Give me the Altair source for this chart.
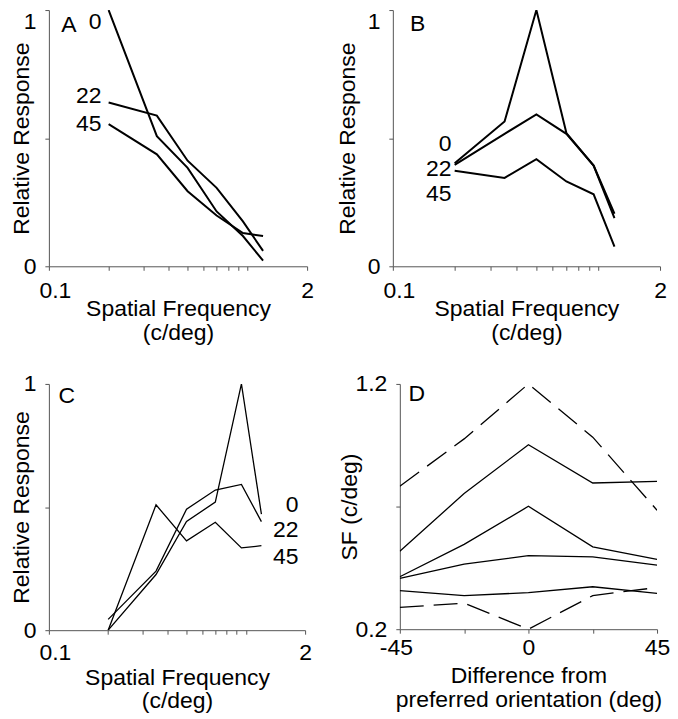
import altair as alt
import pandas as pd

FONT = "Liberation Sans"
FS = 23

# ---------------- data ----------------
sf = [0.2, 0.35, 0.5, 0.7, 0.95, 1.2]          # spatial frequency (c/deg)
orientations = ["0", "22", "45"]

# Panel A
a_0 = [1.0, 0.508, 0.384, 0.214, 0.118, 0.022]
a_22 = [0.639, 0.588, 0.412, 0.306, 0.175, 0.06]
a_45 = [0.555, 0.437, 0.293, 0.198, 0.130, 0.118]

# Panel B
b_0 = [0.402, 0.565, 1.0, 0.520, 0.393, 0.205]
b_22 = [0.396, 0.517, 0.593, 0.517, 0.393, 0.188]
b_45 = [0.373, 0.345, 0.418, 0.331, 0.281, 0.077]

# Panel C
c_0 = [0.0, 0.226, 0.442, 0.520, 1.0, 0.471]
c_22 = [0.044, 0.240, 0.491, 0.569, 0.592, 0.441]
c_45 = [0.0, 0.509, 0.363, 0.438, 0.334, 0.343]

# Panel D
d_x = [-45, -22.5, 0, 22.5, 45]
d_dash_upper = [0.783, 0.976, 1.2, 0.983, 0.685]
d_solid_1 = [0.518, 0.753, 0.952, 0.796, 0.803]
d_solid_2 = [0.414, 0.546, 0.701, 0.536, 0.485]
d_solid_3 = [0.407, 0.465, 0.500, 0.495, 0.461]
d_solid_4 = [0.357, 0.337, 0.349, 0.373, 0.346]
d_dash_lower = [0.289, 0.306, 0.2, 0.337, 0.370]

# tick values / labels
sf_ticks = [0.1, 0.2, 0.3, 0.4, 0.5, 0.6, 0.7, 0.8, 0.9, 1.0, 2.0]
resp_ticks = [0, 0.5, 1]
d_x_ticks = [-45, -22.5, 0, 22.5, 45]
d_y_ticks = [0.2, 0.7, 1.2]

# annotation anchors (data units)
a_lab_x, a_lab_y = 0.184, [0.955, 0.665, 0.556]
b_lab_x, b_lab_y = 0.193, [0.477, 0.379, 0.283]
c_lab_x, c_lab_y = 1.85, [0.510, 0.407, 0.296]


def sf_df(series):
    rows = []
    for name, vals in zip(orientations, series):
        for x, v in zip(sf, vals):
            rows.append({"sf": x, "resp": v, "ori": name})
    return pd.DataFrame(rows)


def sf_x_axis(label_pad, title_y, line_h):
    return alt.Axis(
        values=sf_ticks,
        labelExpr="datum.value < 0.15 ? '0.1' : (datum.value > 1.5 ? '2' : '')",
        labelOffset={"condition": {"test": "datum.value < 0.15", "value": 6}, "value": 0},
        labelOverlap=False, labelFlush=False,
        tickSize=4, labelPadding=label_pad,
        title=["Spatial Frequency", "(c/deg)"], titleY=title_y, titleLineHeight=line_h,
    )


def resp_y_axis(title_x, top_row):
    kw = dict(
        values=resp_ticks,
        labelExpr="datum.value == 0 ? '0' : (datum.value == 1 ? '1' : '')",
        labelOverlap=False, labelFlush=False,
        tickSize=4, labelPadding=9,
        title="Relative Response", titleX=title_x,
    )
    if top_row:
        kw["labelBaseline"] = {"condition": {"test": "datum.value == 1", "value": "top"}, "value": "middle"}
    return alt.Axis(**kw)


def sf_panel(series, lab_x, lab_y, letter, letter_xy, w, h, sw, top_row, title_x, label_pad, title_y, line_h):
    xsc = alt.Scale(type="log", domain=[0.1, 2])
    ysc = alt.Scale(domain=[0, 1])
    lines = alt.Chart(sf_df(series)).mark_line(color="black", strokeWidth=sw, clip=True).encode(
        x=alt.X("sf:Q", scale=xsc, axis=sf_x_axis(label_pad, title_y, line_h)),
        y=alt.Y("resp:Q", scale=ysc, axis=resp_y_axis(title_x, top_row)),
        detail="ori:N",
    )
    lab_df = pd.DataFrame({"sf": [lab_x] * 3, "resp": lab_y, "t": orientations})
    labels = alt.Chart(lab_df).mark_text(align="right", baseline="middle", font=FONT, fontSize=FS, color="black").encode(
        x=alt.X("sf:Q", scale=xsc), y=alt.Y("resp:Q", scale=ysc), text="t:N"
    )
    let = alt.Chart(pd.DataFrame({"t": [letter]})).mark_text(align="center", baseline="middle", font=FONT, fontSize=FS, color="black").encode(
        x=alt.value(letter_xy[0]), y=alt.value(letter_xy[1]), text="t:N"
    )
    return alt.layer(lines, labels, let).properties(width=w, height=h)


panel_a = sf_panel([a_0, a_22, a_45], a_lab_x, a_lab_y, "A", (20, 15), 259, 257, 2, True, -15, 9, 31, 24)
panel_b = sf_panel([b_0, b_22, b_45], b_lab_x, b_lab_y, "B", (25, 14), 268, 257, 2, True, -33, 9, 31, 24)
panel_c = sf_panel([c_0, c_22, c_45], c_lab_x, c_lab_y, "C", (18, 12), 257, 247, 1.3, False, -15, 7, 36, 24)

# Panel D
d_rows = []
for name, vals, style in [("u", d_dash_upper, "dash"), ("s1", d_solid_1, "solid"), ("s2", d_solid_2, "solid"),
                          ("s3", d_solid_3, "solid"), ("s4", d_solid_4, "solid"), ("l", d_dash_lower, "dash")]:
    for x, v in zip(d_x, vals):
        d_rows.append({"dx": x, "sfv": v, "series": name, "style": style})
d_df = pd.DataFrame(d_rows)

d_xsc = alt.Scale(domain=[-45, 45])
d_ysc = alt.Scale(domain=[0.2, 1.2])
d_x_axis = alt.Axis(
    values=d_x_ticks,
    labelExpr="datum.value == -45 ? '-45' : (datum.value == 0 ? '0' : (datum.value == 45 ? '45' : ''))",
    labelOffset={"condition": {"test": "datum.value < -40", "value": -4}, "value": 0},
    labelOverlap=False, labelFlush=False, tickSize=4, labelPadding=3,
    title=["Difference from", "preferred orientation (deg)"], titleY=35, titleLineHeight=25,
)
d_y_axis = alt.Axis(
    values=d_y_ticks,
    labelExpr="datum.value < 0.3 ? '0.2' : (datum.value > 1.1 ? '1.2' : '')",
    labelOverlap=False, labelFlush=False, tickSize=4, labelPadding=9,
    title="SF (c/deg)", titleX=-38,
)
d_solid = alt.Chart(d_df).transform_filter("datum.style == 'solid'").mark_line(color="black", strokeWidth=1.3, clip=True).encode(
    x=alt.X("dx:Q", scale=d_xsc, axis=d_x_axis),
    y=alt.Y("sfv:Q", scale=d_ysc, axis=d_y_axis),
    detail="series:N",
)
d_dash = alt.Chart(d_df).transform_filter("datum.style == 'dash'").mark_line(color="black", strokeWidth=1.3, strokeDash=[24, 10], clip=True).encode(
    x=alt.X("dx:Q", scale=d_xsc), y=alt.Y("sfv:Q", scale=d_ysc), detail="series:N",
)
d_let = alt.Chart(pd.DataFrame({"t": ["D"]})).mark_text(align="center", baseline="middle", font=FONT, fontSize=FS, color="black").encode(
    x=alt.value(17), y=alt.value(10), text="t:N"
)
panel_d = alt.layer(d_solid, d_dash, d_let).properties(width=258, height=246)

row1 = alt.hconcat(panel_a, panel_b, spacing=86, bounds="flush")
row2 = alt.hconcat(panel_c, panel_d, spacing=95, bounds="flush")
chart = alt.vconcat(row1, row2, spacing=29).properties(
    padding={"left": 3, "top": 0, "right": 0, "bottom": 0}
).configure_view(
    stroke=None
).configure_axis(
    grid=False, domainColor="#555", tickColor="#555", domainWidth=1, tickWidth=1,
    labelFont=FONT, titleFont=FONT, labelFontSize=FS, titleFontSize=FS,
    labelColor="black", titleColor="black", titleFontWeight="normal",
)

chart.save("out.html", embed_options={"renderer": "svg", "actions": False})
